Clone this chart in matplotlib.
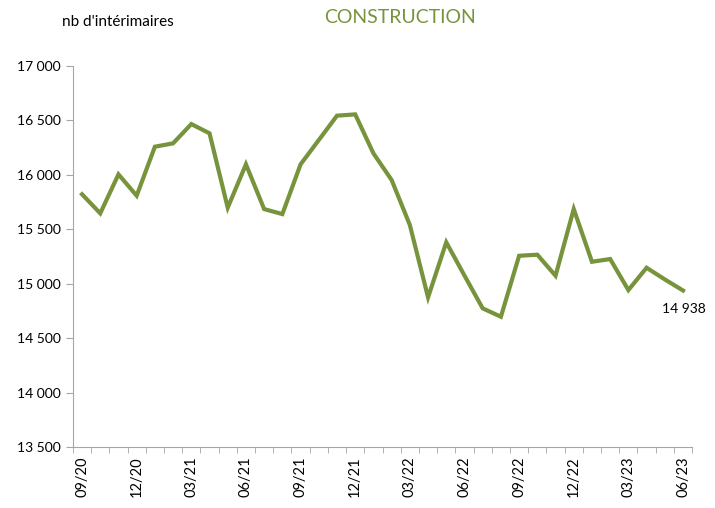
import numpy as np
import matplotlib.pyplot as plt

# mois de 09/20 a 06/23
mois = ['09/20', '10/20', '11/20', '12/20', '01/21', '02/21', '03/21', '04/21',
        '05/21', '06/21', '07/21', '08/21', '09/21', '10/21', '11/21', '12/21',
        '01/22', '02/22', '03/22', '04/22', '05/22', '06/22', '07/22', '08/22',
        '09/22', '10/22', '11/22', '12/22', '01/23', '02/23', '03/23', '04/23',
        '05/23', '06/23']
interimaires = [15822, 15647, 16005, 15809, 16259, 16290, 16467, 16382,
                15699, 16097, 15686, 15640, 16097, 16320, 16544, 16556,
                16198, 15953, 15540, 14875, 15381, 15075, 14774, 14697,
                15257, 15267, 15074, 15686, 15202, 15227, 14942, 15147,
                15040, 14938]
yticks = [13500, 14000, 14500, 15000, 15500, 16000, 16500, 17000]

vert = '#77933C'
gris = '#A6A6A6'

plt.rcParams['font.family'] = ['Lato', 'DejaVu Sans']

fig = plt.figure(figsize=(7.15, 5.08), dpi=100)
ax = fig.add_axes([0.102, 0.120, 0.866, 0.750])

x = np.arange(len(mois))
ax.plot(x, interimaires, color=vert, lw=3, solid_joinstyle='miter')

ax.set_xlim(-0.5, len(mois) - 0.5)
ax.set_ylim(13500, 17000)
ax.set_yticks(yticks)
ax.set_yticklabels(['{:,}'.format(v).replace(',', ' ') for v in yticks], fontsize=10)

ax.set_xticks(x[::3])
ax.set_xticklabels(mois[::3], rotation=90, fontsize=10.5)
ax.set_xticks(np.arange(len(mois) + 1) - 0.5, minor=True)
ax.tick_params(axis='x', which='major', length=0, pad=7)
ax.tick_params(axis='x', which='minor', length=4, color=gris, direction='out')
ax.tick_params(axis='y', length=5, color=gris, direction='out', pad=4)

for s in ['top', 'right']:
    ax.spines[s].set_visible(False)
for s in ['left', 'bottom']:
    ax.spines[s].set_color(gris)

ax.annotate('{:,}'.format(interimaires[-1]).replace(',', ' '),
            xy=(x[-1], interimaires[-1]), xytext=(-15, -13),
            textcoords='offset points', fontsize=10, va='center')

fig.text(0.087, 0.957, "nb d'intérimaires", fontsize=11, ha='left', va='center')
fig.text(0.56, 0.965, 'CONSTRUCTION', fontsize=14, color=vert, ha='center', va='center')

fig.savefig('out.png', dpi=100)
